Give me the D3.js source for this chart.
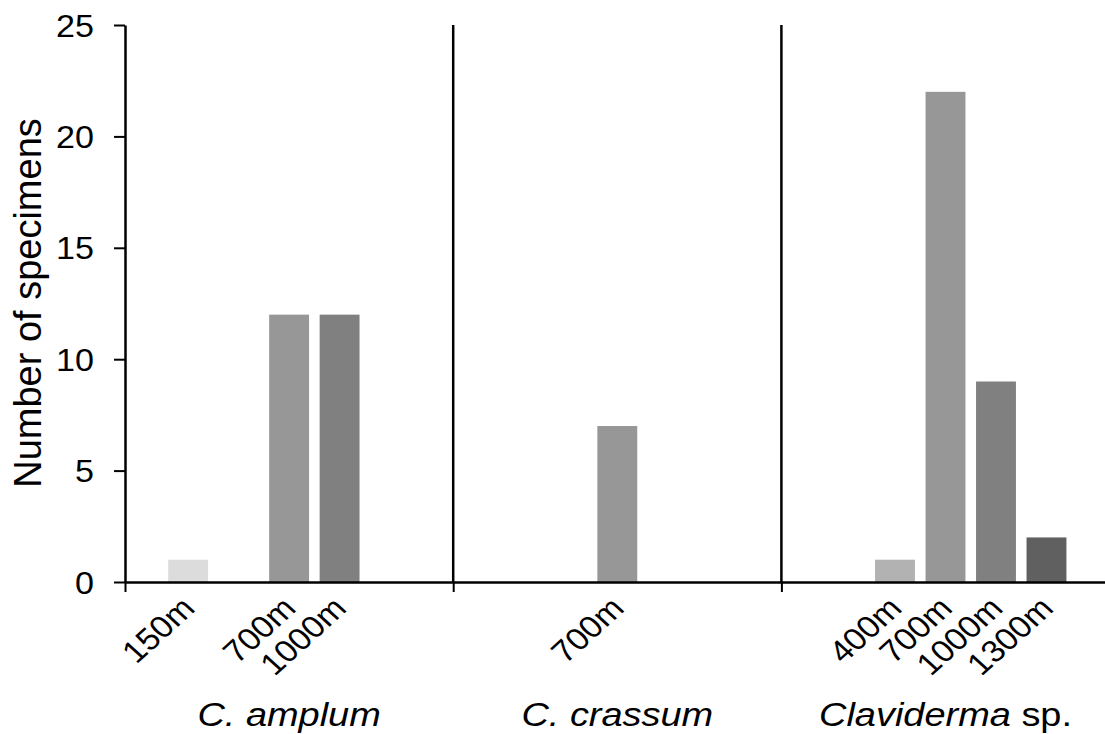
<!DOCTYPE html>
<html>
<head>
<meta charset="utf-8">
<script src="https://cdn.jsdelivr.net/npm/d3@7"></script>
<style>
  body { margin: 0; background: #fff; }
  svg text { font-family: "Liberation Sans", Arial, sans-serif; fill: #000; }
</style>
</head>
<body>
<svg id="chart" width="1105" height="734"></svg>
<script>
const species = ["C. amplum", "C. crassum", "Claviderma sp."];
const depths = ["150m", "400m", "700m", "1000m", "1300m"];
// counts per species, one entry per depth (null = not sampled)
const counts = [
  [1, null, 12, 12, null],
  [null, null, 7, null, null],
  [null, 1, 22, 9, 2]
];
const depthShades = ["#dcdcdc", "#b2b2b2", "#979797", "#808080", "#606060"];
const yTicks = [0, 5, 10, 15, 20, 25];

const svg = d3.select("#chart");
const plotLeft = 125, plotBottom = 582, plotTop = 25;
const groupWidth = 328.2;

const x = d3.scaleBand()
  .domain(species)
  .range([plotLeft, plotLeft + groupWidth * species.length]);

const unit = x.bandwidth() / 6.5;
const xDepth = d3.scalePoint()
  .domain(depths)
  .range([1.25 * unit, 5.25 * unit]);
const barWidth = 0.79 * unit;

const y = d3.scaleLinear().domain([0, 25]).range([plotBottom, plotTop]);

const shade = d3.scaleOrdinal().domain(depths).range(depthShades);

const bars = [];
species.forEach((sp, i) => {
  depths.forEach((d, j) => {
    if (counts[i][j] != null) bars.push({ sp, depth: d, value: counts[i][j] });
  });
});

// bars
svg.append("g")
  .selectAll("rect")
  .data(bars)
  .join("rect")
  .attr("x", d => x(d.sp) + xDepth(d.depth) - barWidth / 2)
  .attr("y", d => y(d.value))
  .attr("width", barWidth)
  .attr("height", d => y(0) - y(d.value))
  .attr("fill", d => shade(d.depth));

// separators between species
svg.append("g")
  .selectAll("line")
  .data(species.slice(1))
  .join("line")
  .attr("x1", d => x(d)).attr("x2", d => x(d))
  .attr("y1", y(25)).attr("y2", y(0))
  .attr("stroke", "#000")
  .attr("stroke-width", 2.5);

// y axis
const yAxis = svg.append("g")
  .attr("transform", `translate(${plotLeft},0)`)
  .call(d3.axisLeft(y).tickValues(yTicks).tickSizeInner(11).tickSizeOuter(0));
yAxis.select(".domain").attr("stroke-width", 2.5);
yAxis.selectAll(".tick line").attr("stroke-width", 2);
yAxis.selectAll(".tick text")
  .attr("x", 0)
  .attr("dy", "0.36em")
  .attr("font-size", 31)
  .attr("font-family", "Liberation Sans, Arial, sans-serif")
  .attr("transform", "translate(-31,0) scale(1.1,1)");

// x axis: baseline with ticks at species boundaries
const boundaries = species.map(s => x(s)).concat([x.range()[1]]);
const xLin = d3.scaleLinear().domain(x.range()).range(x.range());
const xAxis = svg.append("g")
  .attr("transform", `translate(0,${plotBottom})`)
  .call(d3.axisBottom(xLin).tickValues(boundaries).tickFormat("").tickSizeInner(10).tickSizeOuter(0));
xAxis.select(".domain").attr("stroke-width", 2.5);
xAxis.selectAll(".tick line").attr("stroke-width", 2);

// depth labels (rotated)
svg.append("g")
  .selectAll("text")
  .data(bars)
  .join("text")
  .attr("text-anchor", "end")
  .attr("font-size", 31)
  .attr("transform", d => `translate(${x(d.sp) + xDepth(d.depth) + 8.5},610) scale(1.1,1) rotate(-45)`)
  .text(d => d.depth);

// species labels
const spLabels = svg.append("g")
  .selectAll("text")
  .data(species)
  .join("text")
  .attr("text-anchor", "middle")
  .attr("font-size", 33)
  .attr("transform", d => `translate(${x(d) + x.bandwidth() / 2},726) scale(1.15,1)`);
spLabels.each(function (d) {
  const t = d3.select(this);
  if (d.endsWith(" sp.")) {
    t.append("tspan").attr("font-style", "italic").text(d.replace(" sp.", ""));
    t.append("tspan").text(" sp.");
  } else {
    t.append("tspan").attr("font-style", "italic").text(d);
  }
});

// y axis title
svg.append("text")
  .attr("text-anchor", "middle")
  .attr("font-size", 38)
  .attr("transform", "translate(41,303) rotate(-90)")
  .text("Number of specimens");
</script>
</body>
</html>
